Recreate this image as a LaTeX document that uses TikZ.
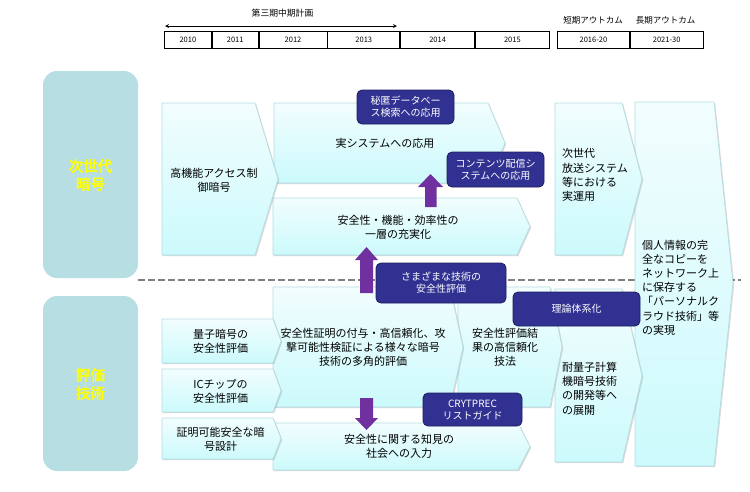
\documentclass[tikz,border=0pt]{standalone}
\usepackage{fontspec}
\setmainfont{Noto Sans CJK JP}
\newfontfamily\sidefont{Noto Sans CJK JP}[FakeBold=3]
\usetikzlibrary{shadows,positioning}
\definecolor{chevtop}{RGB}{242,253,254}
\definecolor{chevbot}{RGB}{204,250,252}
\definecolor{chevline}{RGB}{178,220,224}
\definecolor{sidebox}{RGB}{183,222,226}
\definecolor{navy}{RGB}{48,49,145}
\definecolor{navyline}{RGB}{30,30,95}
\definecolor{purp}{RGB}{112,48,160}
\definecolor{sep}{RGB}{128,128,128}
\definecolor{sideyel}{RGB}{255,255,0}
\begin{document}
\begin{tikzpicture}[x=1pt,y=-1pt,>=stealth,
  chev/.style={draw=chevline,line width=.6pt,top color=chevtop,bottom color=chevbot,
    drop shadow={shadow xshift=1.2pt,shadow yshift=-1.2pt,opacity=.3}},
  txt/.style={font=\fontsize{11}{14.2}\selectfont,align=center,inner sep=0pt},
  side/.style={fill=sidebox,rounded corners=14pt},
  sidetxt/.style={font=\sidefont\fontsize{14.5}{18}\selectfont,text=sideyel,align=center},
  yr/.style={draw,line width=.8pt,fill=white,minimum height=17pt,inner sep=0pt,
    font=\fontsize{7.5}{9}\selectfont,anchor=west},
  nb/.style={fill=navy,draw=navyline,line width=.8pt,rounded corners=5pt,text=white,
    font=\fontsize{10}{12}\selectfont,align=center,inner sep=0pt},
  purparrow/.style={fill=purp}]
\useasboundingbox (0,0) rectangle (750,491);

% timeline
\node[yr,minimum width=47pt] (y10) at (164,39.5) {2010};
\node[yr,minimum width=46pt] (y11) at (y10.east) {2011};
\node[yr,minimum width=68pt] (y12) at (y11.east) {2012};
\node[yr,minimum width=72pt] (y13) at (y12.east) {2013};
\node[yr,minimum width=74pt] (y14) at (y13.east) {2014};
\node[yr,minimum width=74pt] (y15) at (y14.east) {2015};
\node[yr,minimum width=72pt] (y16) at (557,39.5) {2016-20};
\node[yr,minimum width=73pt] (y21) at (y16.east) {2021-30};
\node[font=\fontsize{8.8}{10}\selectfont] (plan) at (282.5,13.5) {第三期中期計画};
\node[font=\fontsize{8.5}{10}\selectfont] (short) at (593,20) {短期アウトカム};
\node[font=\fontsize{8.5}{10}\selectfont] (long) at (665.5,20) {長期アウトカム};
\coordinate (plana) at (165,26);
\coordinate (planb) at (397,26);
\draw[<->,line width=.8pt] (plana) -- (planb);

% rows
\draw[sep,line width=1.8pt,dash pattern=on 7pt off 3pt] (138,280) -- (741,280);
\fill[side] (43,71) rectangle (138,278);
\fill[side] (43,296) rectangle (138,471);
\node[sidetxt] (jisedai) at (90.5,175) {次世代\\暗号};
\node[sidetxt] (hyoka) at (90.5,384) {評価\\技術};

% chevrons
\path[chev] (635,102) -- (714,102) -- (733,283) -- (714,466) -- (635,466) -- cycle;
\path[chev] (555,103) -- (622,103) -- (642,179) -- (622,255) -- (555,255) -- cycle;
\path[chev] (555,289) -- (622,289) -- (642,376) -- (622,462) -- (555,462) -- cycle;
\path[chev] (458,287) -- (550,287) -- (562,347) -- (550,407) -- (458,407) -- cycle;
\path[chev] (273,287) -- (450,287) -- (463,347) -- (450,407) -- (273,407) -- cycle;
\path[chev] (273,423) -- (518,423) -- (530,446.5) -- (518,470) -- (273,470) -- cycle;
\path[chev] (274,103) -- (488,103) -- (505,143) -- (488,183) -- (274,183) -- cycle;
\path[chev] (273,198) -- (517,198) -- (530,226.5) -- (517,255) -- (273,255) -- cycle;
\path[chev] (162,319) -- (273,319) -- (281,341) -- (273,363) -- (162,363) -- cycle;
\path[chev] (162,369) -- (273,369) -- (281,390.5) -- (273,412) -- (162,412) -- cycle;
\path[chev] (162,418) -- (273,418) -- (281,438.5) -- (273,459) -- (162,459) -- cycle;
\path[chev] (162,103) -- (255,103) -- (278,179) -- (255,255) -- (162,255) -- cycle;

\node[txt] (kouki) at (214,180) {高機能アクセス制\\御暗号};
\node[txt] (jissys) at (385,143) {実システムへの応用};
\node[txt] (juji) at (398,227) {安全性・機能・効率性の\\一層の充実化};
\node[txt,align=left,anchor=west] (hoso) at (562,175) {次世代\\放送システム\\等における\\実運用};
\node[txt,align=left,anchor=west] (kojin) at (642,287.5) {個人情報の完\\全なコピーを\\ネットワーク上\\に保存する\\「パーソナルク\\ラウド技術」等\\の実現};
\node[txt] (ryoshi) at (220.5,341.5) {量子暗号の\\安全性評価};
\node[txt] (icchip) at (220.5,391) {ICチップの\\安全性評価};
\node[txt] (shomei) at (220.5,439.5) {証明可能安全な暗\\号設計};
\node[txt] (takaku) at (363,347.5) {安全性証明の付与・高信頼化、攻\\撃可能性検証による様々な暗号\\技術の多角的評価};
\node[txt] (kekka) at (505,347.5) {安全性評価結\\果の高信頼化\\技法};
\node[txt] (shakai) at (399,446.5) {安全性に関する知見の\\社会への入力};
\node[txt,align=left,anchor=west] (tairyo) at (562,388.5) {耐量子計算\\機暗号技術\\の開発等へ\\の展開};

% arrows
\fill[purparrow] (425,207) -- (425,187) -- (418,187) -- (430.5,174) -- (443,187) -- (436.5,187) -- (436.5,207) -- cycle;
\fill[purparrow] (360,293) -- (360,260) -- (355,260) -- (366.5,247) -- (378,260) -- (373,260) -- (373,293) -- cycle;
\fill[purparrow] (360,398) -- (360,418) -- (355,418) -- (366.5,430) -- (378,418) -- (373,418) -- (373,398) -- cycle;

% labels
\node[nb,minimum width=97pt,minimum height=34pt] (hitoku) at (405.5,107) {秘匿データベー\\ス検索への応用};
\node[nb,minimum width=97pt,minimum height=35pt] (contents) at (495.5,169.5) {コンテンツ配信シ\\ステムへの応用};
\node[nb,minimum width=130pt,minimum height=40pt] (samazama) at (441,283) {さまざまな技術の\\安全性評価};
\node[nb,minimum width=127pt,minimum height=34pt] (riron) at (576.5,309) {理論体系化};
\node[nb,minimum width=99pt,minimum height=33pt] (cryptrec) at (472.5,409.5) {CRYTPREC\\リストガイド};
\end{tikzpicture}
\end{document}
